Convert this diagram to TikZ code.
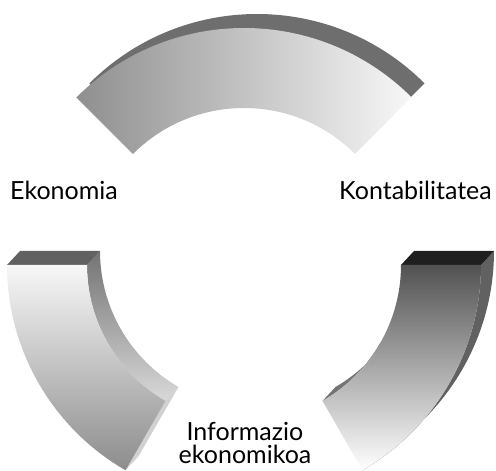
\documentclass[tikz,border=0pt]{standalone}
\usepackage{fontspec}
\setmainfont{Lato}
\begin{document}
\begin{tikzpicture}[x=1pt,y=1pt,
  lbl/.style={font=\fontsize{25}{24}\selectfont,inner sep=0pt,align=center}]
\useasboundingbox (-244,-206) rectangle (252,265);
\fill[black!57,shift={(13,14)}] (45:237) arc[start angle=45,end angle=135,radius=237] -- (135:157) arc[start angle=135,end angle=45,radius=157] -- cycle;
\shade[left color=black!44,right color=black!3] (45:237) arc[start angle=45,end angle=135,radius=237] -- (135:157) arc[start angle=135,end angle=45,radius=157] -- cycle;
\shade[top color=black!55,bottom color=black!15] (180:157) arc[start angle=180,end angle=240,radius=157] -- ++(13,14) arc[start angle=240,end angle=180,radius=157] -- cycle;
\fill[black!18] (240:157) -- (240:237) -- ++(13,14) -- ++(40,69.3) -- cycle;
\fill[black!62] (-237,0) -- (-157,0) -- (-144,14) -- (-224,14) -- cycle;
\shade[shading=axis,shading angle=50,top color=black!3,bottom color=black!45] (180:237) arc[start angle=180,end angle=240,radius=237] -- (240:157) arc[start angle=240,end angle=180,radius=157] -- cycle;
\fill[black!62] (300:237) arc[start angle=300,end angle=360,radius=237] -- ++(13,14) arc[start angle=360,end angle=300,radius=237] -- cycle;
\fill[black!55] (300:157) arc[start angle=300,end angle=330,radius=157] -- ++(13,14) arc[start angle=330,end angle=300,radius=157] -- cycle;
\fill[black!88] (157,0) -- (237,0) -- (250,14) -- (170,14) -- cycle;
\shade[shading=axis,shading angle=-20,top color=black!68,bottom color=white] (300:237) arc[start angle=300,end angle=360,radius=237] -- (360:157) arc[start angle=360,end angle=300,radius=157] -- cycle;
\node[lbl,anchor=base west] (ekon) at (-234,65) {Ekonomia};
\node[lbl,anchor=base east] (konta) at (248,65) {Kontabilitatea};
\node[lbl,anchor=base] (info) at (1,-199) {Informazio\\ekonomikoa};
\end{tikzpicture}
\end{document}
